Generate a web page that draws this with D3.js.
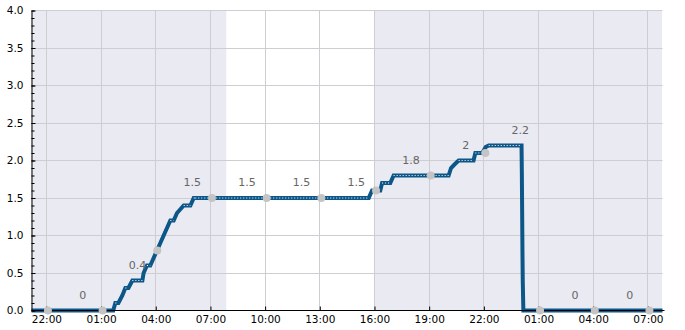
<!DOCTYPE html>
<html>
<head>
<meta charset="utf-8">
<script src="https://cdn.jsdelivr.net/npm/d3@7"></script>
<style>
  body { margin: 0; background: #fff; }
  text { font-family: "DejaVu Sans", sans-serif; }
</style>
</head>
<body>
<svg id="chart" width="685" height="330"></svg>
<script>
// time window shown on the x axis
var domainStart = "2024-01-01 21:11";
var domainEnd = "2024-01-03 07:48";

// daylight band (white background)
var bandStart = "2024-01-02 07:52";
var bandEnd = "2024-01-02 16:00";

// main series, change points
var seriesTimes = [
  "2024-01-01 21:11", "2024-01-02 01:40", "2024-01-02 01:47", "2024-01-02 01:57",
  "2024-01-02 02:10", "2024-01-02 02:20", "2024-01-02 02:30", "2024-01-02 02:43",
  "2024-01-02 03:16", "2024-01-02 03:20", "2024-01-02 03:31", "2024-01-02 03:42",
  "2024-01-02 03:53", "2024-01-02 04:04", "2024-01-02 04:15", "2024-01-02 04:26",
  "2024-01-02 04:37", "2024-01-02 04:48", "2024-01-02 04:59", "2024-01-02 05:10",
  "2024-01-02 05:21", "2024-01-02 05:32", "2024-01-02 05:54", "2024-01-02 06:05",
  "2024-01-02 06:10", "2024-01-02 15:41", "2024-01-02 15:52", "2024-01-02 16:19",
  "2024-01-02 16:25", "2024-01-02 16:52", "2024-01-02 17:03", "2024-01-02 20:04",
  "2024-01-02 20:12", "2024-01-02 20:24", "2024-01-02 20:37", "2024-01-02 21:26",
  "2024-01-02 21:32", "2024-01-02 21:55", "2024-01-02 22:06", "2024-01-02 22:16",
  "2024-01-03 00:04", "2024-01-03 00:05", "2024-01-03 00:07", "2024-01-03 00:08",
  "2024-01-03 00:10", "2024-01-03 07:48"
];
var seriesValues = [
  0, 0, 0.1, 0.1,
  0.2, 0.3, 0.3, 0.4,
  0.4, 0.5, 0.6, 0.6,
  0.7, 0.8, 0.9, 1.0,
  1.1, 1.2, 1.2, 1.3,
  1.35, 1.4, 1.4, 1.5,
  1.5, 1.5, 1.6, 1.6,
  1.7, 1.7, 1.8, 1.8,
  1.9, 1.95, 2.0, 2.0,
  2.1, 2.1, 2.18, 2.2,
  2.2, 1.85, 0.8, 0.4,
  0, 0
];

// grey markers every three hours
var markerTimes = [
  "2024-01-01 22:05", "2024-01-02 01:05", "2024-01-02 04:05", "2024-01-02 07:05",
  "2024-01-02 10:05", "2024-01-02 13:05", "2024-01-02 16:05", "2024-01-02 19:05",
  "2024-01-02 22:05", "2024-01-03 01:05", "2024-01-03 04:05", "2024-01-03 07:05"
];
var markerValues = [0, 0, 0.8, 1.5, 1.5, 1.5, 1.6, 1.8, 2.1, 0, 0, 0];

// value labels
var labelTimes = [
  "2024-01-02 00:00", "2024-01-02 03:00", "2024-01-02 06:00", "2024-01-02 09:00",
  "2024-01-02 12:00", "2024-01-02 15:00", "2024-01-02 18:00", "2024-01-02 21:00",
  "2024-01-03 00:00", "2024-01-03 03:00", "2024-01-03 06:00"
];
var labelTexts = ["0", "0.4", "1.5", "1.5", "1.5", "1.5", "1.8", "2", "2.2", "0", "0"];
var labelValues = [0, 0.4, 1.5, 1.5, 1.5, 1.5, 1.8, 2.0, 2.2, 0, 0];

var yMajorTicks = [0, 0.5, 1, 1.5, 2, 2.5, 3, 3.5, 4];

var parse = d3.timeParse("%Y-%m-%d %H:%M");

var margin = {top: 10, left: 31};
var width = 631, height = 300;

var svg = d3.select("#chart");
var g = svg.append("g")
  .attr("transform", "translate(" + (margin.left + 0.5) + "," + (margin.top + 0.5) + ")");

var x = d3.scaleTime()
  .domain([parse(domainStart), parse(domainEnd)])
  .range([0, width]);
var y = d3.scaleLinear()
  .domain([0, 4])
  .range([height, 0]);

// x ticks at 22:00, 01:00, 04:00 ...
var xTicks = d3.timeHour.range(x.domain()[0], x.domain()[1])
  .filter(function(d) { return (d.getHours() + 2) % 3 == 0; });

// backgrounds
g.append("rect")
  .attr("x", -0.5).attr("y", -0.5)
  .attr("width", width).attr("height", height)
  .attr("fill", "#eaeaf2");
g.append("rect")
  .attr("x", x(parse(bandStart))).attr("y", -0.5)
  .attr("width", x(parse(bandEnd)) - x(parse(bandStart)))
  .attr("height", height)
  .attr("fill", "#ffffff");

// grid
g.append("g").selectAll("line").data(yMajorTicks).enter()
  .append("line")
  .attr("x1", 0).attr("x2", width)
  .attr("y1", function(d) { return Math.round(y(d)); })
  .attr("y2", function(d) { return Math.round(y(d)); })
  .attr("stroke", "#cdcdd2");
g.append("g").selectAll("line").data(xTicks).enter()
  .append("line")
  .attr("x1", function(d) { return Math.round(x(d)); })
  .attr("x2", function(d) { return Math.round(x(d)); })
  .attr("y1", 0).attr("y2", height)
  .attr("stroke", "#cdcdd2");

// series
var series = seriesTimes.map(function(t, i) { return {t: parse(t), v: seriesValues[i]}; });
var line = d3.line()
  .x(function(d) { return x(d.t); })
  .y(function(d) { return y(d.v); });

g.append("path")
  .datum(series)
  .attr("d", line)
  .attr("fill", "none")
  .attr("stroke", "#0c5688")
  .attr("stroke-width", 4)
  .attr("stroke-linejoin", "miter");

// white dotted core only on the flat parts
var flats = [];
for (var i = 1; i < series.length; i++) {
  if (series[i].v == series[i - 1].v) flats.push([series[i - 1], series[i]]);
}
g.append("g").selectAll("path").data(flats).enter()
  .append("path")
  .attr("d", line)
  .attr("fill", "none")
  .attr("stroke", "#ffffff")
  .attr("stroke-width", 1)
  .attr("stroke-dasharray", "1 2");

// axes
var xAxis = d3.axisBottom(x)
  .tickValues(xTicks)
  .tickFormat(d3.timeFormat("%H:%M"))
  .tickSizeInner(-4)
  .tickSizeOuter(0)
  .tickPadding(5);
var xg = g.append("g")
  .attr("transform", "translate(0," + height + ")")
  .call(xAxis);

var yMinor = d3.range(0, 41).map(function(d) { return d / 10; });
g.append("g")
  .call(d3.axisLeft(y).tickValues(yMinor).tickSize(-3).tickFormat(""))
  .call(function(s) { s.select(".domain").remove(); });
var yg = g.append("g")
  .call(d3.axisLeft(y)
    .tickValues(yMajorTicks)
    .tickFormat(d3.format(".1f"))
    .tickSizeInner(-4)
    .tickSizeOuter(0)
    .tickPadding(8));

[xg, yg].forEach(function(a) {
  a.selectAll("text").attr("font-size", 10.5).attr("fill", "#000")
    .attr("font-family", "DejaVu Sans, sans-serif");
  a.select(".domain").attr("stroke", "#000");
});
xg.select(".domain").attr("d", "M0,0H" + (width + 2));

// markers
var markers = markerTimes.map(function(t, i) { return {t: parse(t), v: markerValues[i]}; });
g.append("g").selectAll("circle").data(markers).enter()
  .append("circle")
  .attr("cx", function(d) { return x(d.t); })
  .attr("cy", function(d) { return y(d.v); })
  .attr("r", 4)
  .attr("fill", "#c4c4c4");

// value labels
g.append("g").selectAll("text").data(labelTimes).enter()
  .append("text")
  .attr("x", function(d) { return x(parse(d)); })
  .attr("y", function(d, i) { return y(labelValues[i]) - 12; })
  .attr("text-anchor", "middle")
  .attr("font-size", 11)
  .attr("fill", "#666666")
  .text(function(d, i) { return labelTexts[i]; });
</script>
</body>
</html>
